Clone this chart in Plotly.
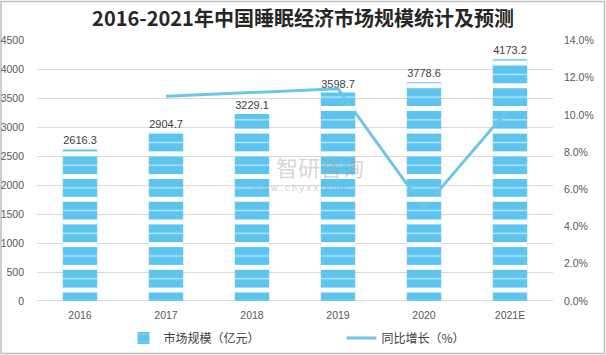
import plotly.graph_objects as go

years = ["2016", "2017", "2018", "2019", "2020", "2021E"]
market_size = [2616.3, 2904.7, 3229.1, 3598.7, 3778.6, 4173.2]
growth_years = ["2017", "2018", "2019", "2020", "2021E"]
growth_pct = [11.0, 11.2, 11.4, 5.0, 10.4]
left_ticks = [0, 500, 1000, 1500, 2000, 2500, 3000, 3500, 4000, 4500]
right_ticks = [0, 2, 4, 6, 8, 10, 12, 14]
right_labels = ["0.0%", "2.0%", "4.0%", "6.0%", "8.0%", "10.0%", "12.0%", "14.0%"]

BAR = "#5CC4EE"
LINE = "#6EC5E6"
TICKC = "#595959"
TICKFONT = dict(family="Liberation Sans, Arial, sans-serif", size=10.5, color=TICKC)

W, H = 606, 355
L, R, B = 37, 53, 54
PERIOD = 22.7
T = 40 - PERIOD / 2          # top of extended (stripe) subplot
plot_h = H - T - B            # full region height
main_h = 301 - 40             # main plot height
main_top_frac = main_h / plot_h
YMAX = 4500

fig = go.Figure()

# main bars: blue with thin light lines
fig.add_trace(go.Bar(
    x=years, y=market_size, name="市场规模（亿元）",
    marker=dict(color=BAR, line=dict(width=0),
                pattern=dict(shape="-", size=PERIOD, solidity=0.06,
                             fgcolor="#BDE7F8", bgcolor=BAR, fgopacity=1)),
    text=[f"{v:.1f}" for v in market_size], textposition="outside",
    textfont=dict(family="Liberation Sans, Arial, sans-serif", size=11, color="#404040"),
    cliponaxis=False,
    xaxis="x", yaxis="y",
))

# white gaps overlay (shifted-origin subplot so gaps fall between light lines)
fig.add_trace(go.Bar(
    x=years, y=market_size, showlegend=False, hoverinfo="skip",
    marker=dict(color="rgba(0,0,0,0)", line=dict(width=0),
                pattern=dict(shape="-", size=PERIOD, solidity=0.22,
                             fgcolor="white", fillmode="overlay", fgopacity=1)),
    xaxis="x2", yaxis="y3",
))

# line on secondary axis
fig.add_trace(go.Scatter(
    x=growth_years, y=growth_pct, name="同比增长（%）", mode="lines",
    line=dict(color=LINE, width=3),
    xaxis="x", yaxis="y2",
))

fig.update_layout(
    template="none",
    width=W, height=H,
    margin=dict(l=L, r=R, t=T, b=B),
    paper_bgcolor="white", plot_bgcolor="rgba(0,0,0,0)",
    bargap=0.6,
    title=dict(text="<b>2016-2021年中国睡眠经济市场规模统计及预测</b>",
               x=0.5, xanchor="center", y=1 - 19 / H, yanchor="middle",
               font=dict(family="Noto Sans CJK SC", size=20, color="#262626")),
    xaxis=dict(type="category", domain=[0, 1], categoryorder="array", categoryarray=years,
               tickfont=TICKFONT, showgrid=False, showline=False, ticks="",
               ticklabelstandoff=6, zeroline=False),
    xaxis2=dict(type="category", domain=[0, 1], anchor="y3", overlaying="x", visible=False,
                categoryorder="array", categoryarray=years),
    yaxis=dict(domain=[0, main_top_frac], range=[0, YMAX], tickvals=left_ticks,
               tickfont=TICKFONT, showgrid=True, gridcolor="#D9D9D9", gridwidth=1,
               zeroline=True, zerolinecolor="#D9D9D9", zerolinewidth=1, showline=False,
               ticks="", ticklabelstandoff=12),
    yaxis2=dict(range=[0, 14], tickvals=right_ticks, ticktext=right_labels,
                overlaying="y", side="right", showgrid=False, zeroline=False,
                showline=False, ticks="",
                tickfont=TICKFONT, ticklabelstandoff=10),
    yaxis3=dict(domain=[0, 1], range=[0, YMAX * plot_h / main_h], anchor="x2",
                visible=False),
    legend=dict(orientation="h", x=0.5 + 46.5 / (W - L - R), xanchor="center",
                yref="container", y=1 - 338 / H, yanchor="middle",
                font=dict(family="Noto Sans CJK SC", size=12, color="#404040"),
                entrywidth=173, itemwidth=30, bgcolor="rgba(0,0,0,0)"),
    showlegend=True,
)

# watermark
fig.add_annotation(text="智研咨询", x=(320 - L) / (W - L - R), y=(301 - 166) / plot_h,
                   xref="paper", yref="paper", showarrow=False,
                   font=dict(family="Noto Sans CJK SC", size=22, color="rgba(160,160,160,0.45)"))
fig.add_annotation(text="w w w . c h y x x . c o m", x=(300 - L) / (W - L - R),
                   y=(301 - 188) / plot_h, xref="paper", yref="paper", showarrow=False,
                   font=dict(family="Liberation Sans", size=9, color="rgba(160,160,160,0.55)"))

# outer border
pw = W - L - R
fig.add_shape(type="rect", xref="paper", yref="paper",
              x0=(1 - L) / pw, x1=(W - 1.5 - L) / pw,
              y0=(301 - (H - 1.5)) / plot_h, y1=(301 - 1) / plot_h,
              line=dict(color="#BFBFBF", width=1.5), layer="below")

fig.write_html("out.html", config={"displayModeBar": False},
               post_script="document.body.style.margin='0';document.body.style.overflow='hidden';")
